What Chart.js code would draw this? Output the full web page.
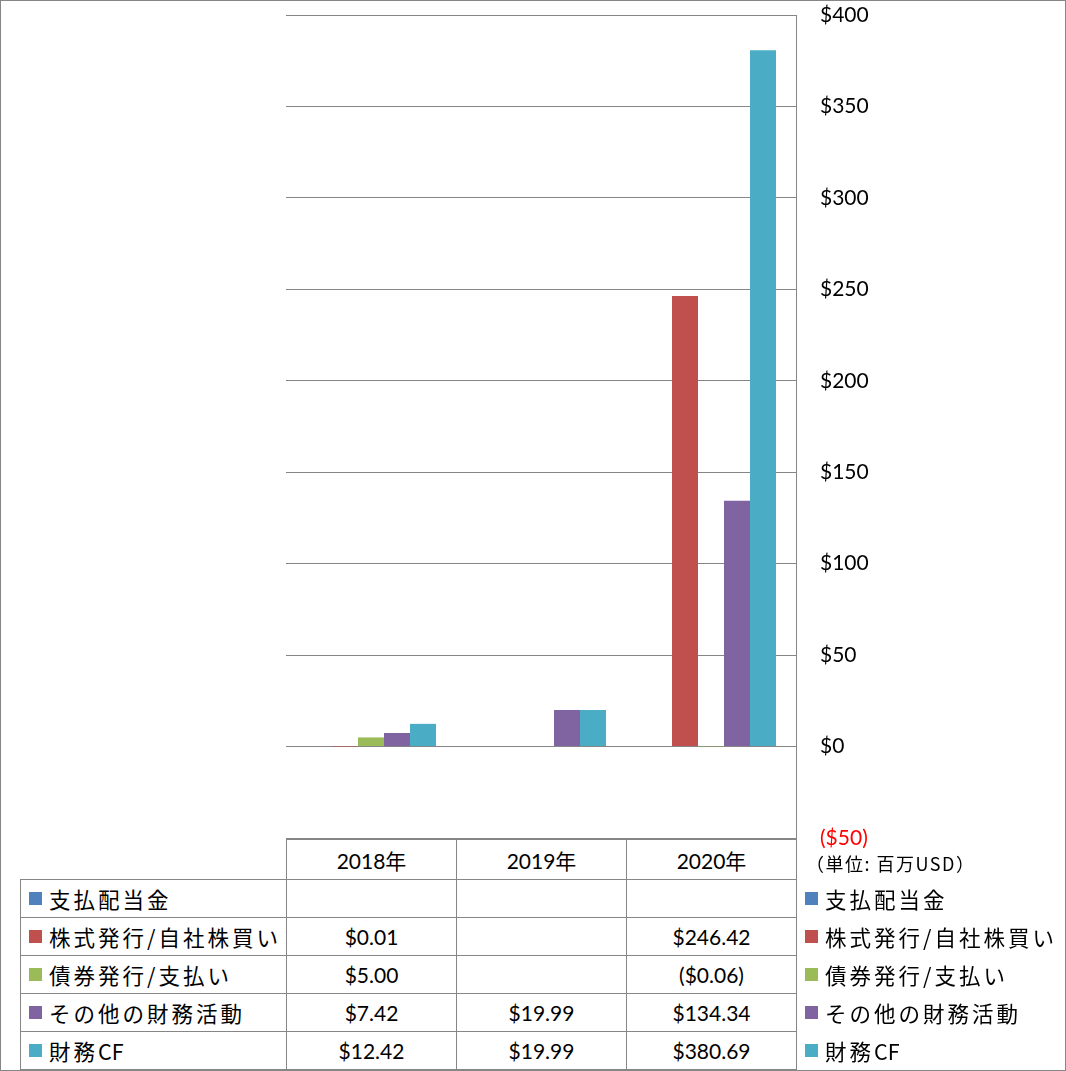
<!DOCTYPE html>
<html>
<head>
<meta charset="utf-8">
<script src="https://cdn.jsdelivr.net/npm/chart.js@4/dist/chart.umd.min.js"></script>
<style>
  body { margin: 0; background: #fff; }
  #wrap { position: relative; width: 1066px; height: 1071px; overflow: hidden; font-family: Lato, "Noto Sans CJK JP", sans-serif; }
  #chart { position: absolute; left: 0; top: 0; }
  #frame { position: absolute; left: 0; top: 0; width: 1066px; height: 1071px; border: 1px solid #868686; box-sizing: border-box; pointer-events: none; }
  .cell { position: absolute; box-sizing: border-box; border: 1px solid #868686; display: flex; align-items: center; justify-content: center; font-size: 21px; color: #000; background: #fff; }
  .cell.lab { justify-content: flex-start; padding-left: 8px; }
  .sw { display: inline-block; width: 13px; height: 13px; margin-right: 7px; flex: none; }
  .jp { font-family: "Noto Sans CJK JP", sans-serif; font-size: 21.5px; letter-spacing: 3px; white-space: nowrap; }
  .jp .lat { letter-spacing: 0; }
  .leg { position: absolute; left: 805px; display: flex; align-items: center; height: 38px; }
  #unit { position: absolute; left: 806px; top: 850px; font-family: "Noto Sans CJK JP", sans-serif; font-size: 18px; letter-spacing: 1.5px; color: #000; white-space: nowrap; }
</style>
</head>
<body>
<div id="wrap">
  <canvas id="chart" width="1066" height="1071"></canvas>
  <div id="table"></div>
  <div id="unit">（単位: 百万USD）</div>
  <div id="frame"></div>
</div>
<script>
// データ (単位: 百万USD)
const years = ["2018年", "2019年", "2020年"];
const seriesNames = ["支払配当金", "株式発行/自社株買い", "債券発行/支払い", "その他の財務活動", "財務CF"];
const seriesColors = ["#4F81BD", "#C0504D", "#9BBB59", "#8064A2", "#4BACC6"];
const dividends = [null, null, null];
const stockIssue = [0.01, null, 246.42];
const bondIssue = [5.00, null, -0.06];
const otherFinancing = [7.42, 19.99, 134.34];
const financingCF = [12.42, 19.99, 380.69];
const yTicks = [-50, 0, 50, 100, 150, 200, 250, 300, 350, 400];

const seriesValues = [dividends, stockIssue, bondIssue, otherFinancing, financingCF];

function fmtMoney(v) {
  if (v === null) return "";
  return v < 0 ? "($" + Math.abs(v).toFixed(2) + ")" : "$" + v.toFixed(2);
}

// 凡例ラベル (ラテン文字は字間なし)
function legendLabel(name) {
  return name.replace(/([A-Za-z]+)/g, '<span class="lat">$1</span>');
}

Chart.defaults.font.family = 'Lato, "Noto Sans CJK JP", sans-serif';
Chart.defaults.font.size = 21;
Chart.defaults.color = "#000";

const ctx = document.getElementById("chart").getContext("2d");
new Chart(ctx, {
  type: "bar",
  data: {
    labels: years,
    datasets: seriesNames.map((name, i) => ({
      label: name,
      data: seriesValues[i],
      backgroundColor: seriesColors[i],
      borderWidth: 0,
      categoryPercentage: 130 / 170,
      barPercentage: 1
    }))
  },
  options: {
    responsive: false,
    animation: false,
    layout: { padding: { left: 286, top: 15, bottom: 233, right: 0 } },
    plugins: { legend: { display: false }, tooltip: { enabled: false } },
    scales: {
      x: { display: false },
      y: {
        position: "right",
        min: yTicks[0],
        max: yTicks[yTicks.length - 1],
        afterBuildTicks: function (scale) {
          scale.ticks = yTicks.map(v => ({ value: v }));
        },
        afterFit: function (scale) {
          scale.width = 270;
          scale.paddingTop = 0;
          scale.paddingBottom = 0;
        },
        border: { display: true, color: "#868686", width: 1 },
        grid: { color: "#868686", lineWidth: 1, drawTicks: false },
        ticks: {
          padding: 24,
          color: function (c) { return c.tick.value < 0 ? "#FF0000" : "#000"; },
          callback: function (v) { return v < 0 ? "($" + Math.abs(v) + ")" : "$" + v; }
        }
      }
    }
  }
});

// データテーブル
const colX = [20, 286, 456, 626, 796];
const headTop = 839, rowTop = 879, rowH = 38;
const table = document.getElementById("table");
function addCell(x1, y1, x2, y2, html, cls) {
  const d = document.createElement("div");
  d.className = "cell" + (cls ? " " + cls : "");
  d.style.left = x1 + "px";
  d.style.top = y1 + "px";
  d.style.width = (x2 - x1 + 1) + "px";
  d.style.height = (y2 - y1 + 1) + "px";
  d.innerHTML = html;
  table.appendChild(d);
}
years.forEach((y, j) => addCell(colX[j + 1], headTop, colX[j + 2], rowTop, y));
seriesNames.forEach((name, i) => {
  const y1 = rowTop + rowH * i, y2 = y1 + rowH;
  const swatch = '<span class="sw" style="background:' + seriesColors[i] + '"></span>';
  addCell(colX[0], y1, colX[1], y2, swatch + '<span class="jp">' + legendLabel(name) + '</span>', "lab");
  seriesValues[i].forEach((v, j) => addCell(colX[j + 1], y1, colX[j + 2], y2, fmtMoney(v)));
  const leg = document.createElement("div");
  leg.className = "leg";
  leg.style.top = y1 + "px";
  leg.innerHTML = swatch + '<span class="jp">' + legendLabel(name) + '</span>';
  document.getElementById("wrap").appendChild(leg);
});
</script>
</body>
</html>
